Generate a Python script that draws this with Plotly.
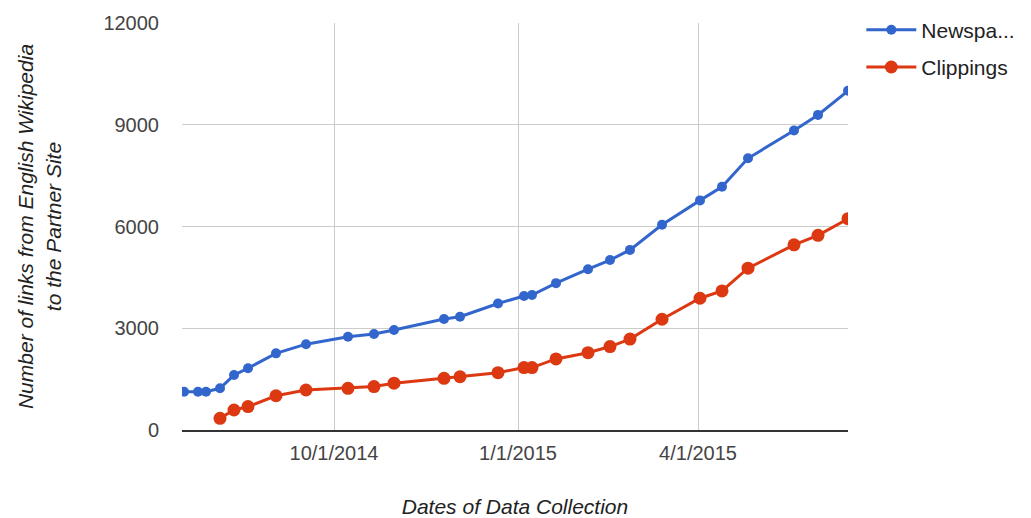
import plotly.graph_objects as go

# collection dates (~2 px per day)
dates = [
    "2014-07-18", "2014-07-25", "2014-07-29", "2014-08-05", "2014-08-12",
    "2014-08-19", "2014-09-02", "2014-09-17", "2014-10-08", "2014-10-21",
    "2014-10-31", "2014-11-25", "2014-12-03", "2014-12-22", "2015-01-04",
    "2015-01-08", "2015-01-20", "2015-02-05", "2015-02-16", "2015-02-26",
    "2015-03-14", "2015-04-02", "2015-04-13", "2015-04-26", "2015-05-19",
    "2015-05-31", "2015-06-15",
]

newspapers = [
    1130, 1130, 1130, 1230, 1620, 1820, 2260, 2530, 2750, 2830,
    2950, 3275, 3340, 3730, 3950, 3980, 4330, 4740, 5010, 5310,
    6050, 6770, 7170, 8010, 8830, 9290, 10000,
]

clippings = [
    None, None, None, 345, 590, 690, 1010, 1180, 1230, 1280,
    1380, 1525, 1570, 1690, 1840, 1840, 2095, 2280, 2460, 2680,
    3265, 3885, 4100, 4770, 5460, 5740, 6230,
]

tick_dates = ["2014-10-01", "2015-01-01", "2015-04-01"]
tick_text = ["10/1/2014", "1/1/2015", "4/1/2015"]
y_ticks = [0, 3000, 6000, 9000, 12000]

BLUE = "#3366CC"
RED = "#DC3912"
FONT = "Liberation Sans, Arial, sans-serif"

fig = go.Figure()
fig.add_trace(go.Scatter(
    x=dates, y=newspapers, name="Newspa...", mode="lines+markers",
    line=dict(color=BLUE, width=3), marker=dict(size=10, color=BLUE),
    legendgroup="a",
))
fig.add_trace(go.Scatter(
    x=dates, y=clippings, name="Clippings", mode="lines+markers",
    line=dict(color=RED, width=3), marker=dict(size=13, color=RED),
    legendgroup="b",
))

# page body has an 8px margin, so the figure is a little smaller than the window
fig.update_layout(
    width=1023, height=510,
    paper_bgcolor="white", plot_bgcolor="white",
    font=dict(family=FONT, size=20, color="#444"),
    margin=dict(l=174, r=183, t=15, b=88, autoexpand=False),
    showlegend=True,
    legend=dict(x=1.02, y=1.033, xanchor="left", yanchor="top",
                font=dict(size=21, color="#222"), tracegroupgap=7,
                itemwidth=50, bgcolor="rgba(0,0,0,0)"),
)
fig.update_xaxes(
    type="date", range=["2014-07-17", "2015-06-15"],
    tickvals=tick_dates, ticktext=tick_text,
    showgrid=True, gridcolor="#cccccc", gridwidth=1,
    showline=True, linecolor="#333", linewidth=2,
    ticks="", ticklabelstandoff=4, zeroline=False,
    title=dict(text="<i>Dates of Data Collection</i>", standoff=40,
               font=dict(size=21, color="#222")),
    automargin=False,
)
fig.update_yaxes(
    range=[0, 12000], tickvals=y_ticks, tickformat="d",
    showgrid=True, gridcolor="#cccccc", gridwidth=1,
    zeroline=False, ticks="", ticklabelstandoff=22,
    title=dict(text="<i>Number of links from English Wikipedia<br>to the Partner Site</i>",
               standoff=36, font=dict(size=21, color="#222")),
    automargin=False,
)

fig.write_html("out.html")
